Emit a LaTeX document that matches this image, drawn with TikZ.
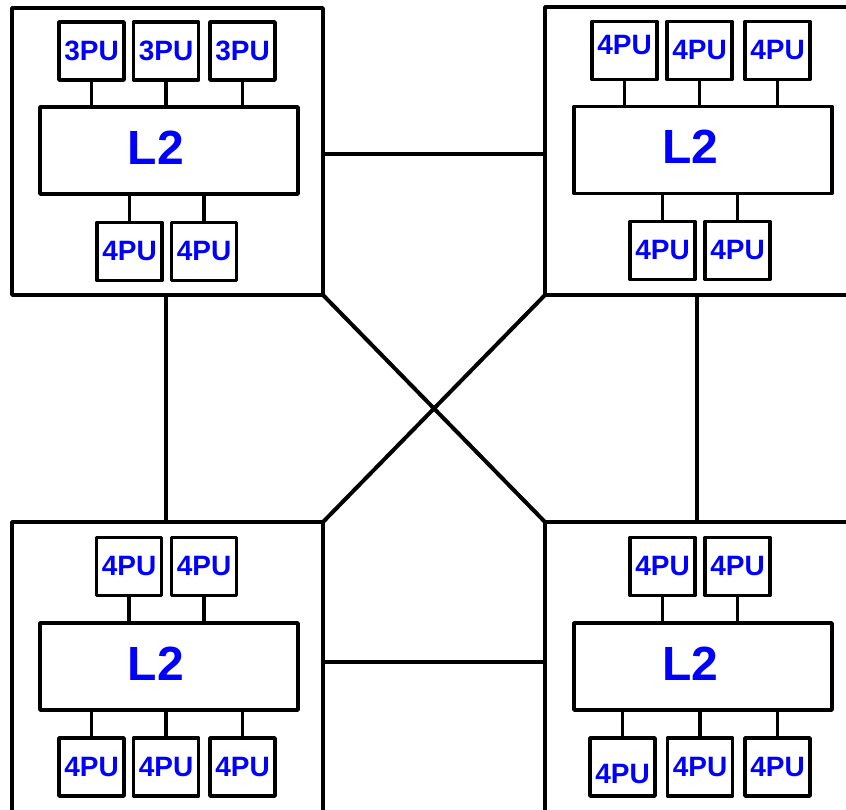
\documentclass[tikz,border=0pt]{standalone}
\usepackage{fontspec}
\setmainfont{Liberation Sans}
\usetikzlibrary{calc}
\definecolor{publue}{RGB}{0,0,255}
% cache label sits a little left of and above the box centre
\newcommand{\cachelabel}{\hspace*{-26pt}\raisebox{3pt}[\height][\depth]{L2}}
\newcommand{\liftlabel}[2]{\raisebox{#1}[\height][\depth]{#2}}
\tikzset{
  module/.style={draw, line width=3.6pt, line join=round, inner sep=0pt, outer sep=0pt},
  pu/.style={draw, line width=3.6pt, line join=round, inner sep=0pt, outer sep=0pt,
    minimum width=65pt, minimum height=58pt, text=publue,
    font=\fontsize{28}{30}\selectfont\bfseries},
  cache/.style={draw, line width=3.6pt, line join=round, inner sep=0pt, outer sep=0pt,
    minimum width=258pt, minimum height=87pt, text=publue,
    font=\fontsize{48}{52}\selectfont\bfseries},
  stub/.style={line width=3.4pt},
  link/.style={line width=3.2pt},
  cross/.style={line width=4pt},
}
\begin{document}
\begin{tikzpicture}[x=1pt,y=-1pt]
\useasboundingbox (0,0) rectangle (846,810);
\clip (0,0) rectangle (846,810);
\fill[white] (0,0) rectangle (846,810);

% four module frames (the right and lower ones run past the edge)
\node[module, minimum width=311pt, minimum height=287pt] (tl) at (167.5,151.5) {};
\node[module, minimum width=355pt, minimum height=288pt] (tr) at (722.5,151) {};
\node[module, minimum width=311pt, minimum height=338pt] (bl) at (167.5,691) {};
\node[module, minimum width=355pt, minimum height=338pt] (br) at (722.5,691) {};

% ---- top-left module ----
\node[cache] (tlL2) at (169,150.5) {\cachelabel};
\node[pu] (tla) at (91.5,51) {3PU};
\node[pu] (tlb) at (166,51) {3PU};
\node[pu] (tlc) at (242.5,51) {3PU};
\node[pu] (tld) at (129.5,251.5) {4PU};
\node[pu] (tle) at (204,251.5) {4PU};
\foreach \p in {tla,tlb,tlc} \draw[stub] (\p.south) -- (\p.south |- tlL2.north);
\foreach \p in {tld,tle} \draw[stub] (\p.north) -- (\p.north |- tlL2.south);

% ---- top-right module ----
\node[cache] (trL2) at (703,150) {\cachelabel};
\node[pu] (tra) at (624.5,50.5) {\liftlabel{5pt}{4PU}};
\node[pu] (trb) at (699.5,50.5) {4PU};
\node[pu] (trc) at (777.5,50.5) {4PU};
\node[pu] (trd) at (662.5,250.5) {4PU};
\node[pu] (tre) at (737.5,250.5) {4PU};
\foreach \p in {tra,trb,trc} \draw[stub] (\p.south) -- (\p.south |- trL2.north);
\foreach \p in {trd,tre} \draw[stub] (\p.north) -- (\p.north |- trL2.south);

% ---- bottom-left module ----
\node[cache] (blL2) at (169,666.5) {\cachelabel};
\node[pu] (bla) at (129,566.5) {4PU};
\node[pu] (blb) at (204,566.5) {4PU};
\node[pu] (blc) at (91.5,767) {4PU};
\node[pu] (bld) at (166,767) {4PU};
\node[pu] (ble) at (242.5,767) {4PU};
\foreach \p in {bla,blb} \draw[stub] (\p.south) -- (\p.south |- blL2.north);
\foreach \p in {blc,bld,ble} \draw[stub] (\p.north) -- (\p.north |- blL2.south);

% ---- bottom-right module ----
\node[cache] (brL2) at (703,666.5) {\cachelabel};
\node[pu] (bra) at (662.5,566.5) {4PU};
\node[pu] (brb) at (737.5,566.5) {4PU};
\node[pu] (brc) at (622.5,767) {\liftlabel{-7pt}{4PU}};
\node[pu] (brd) at (700,767) {4PU};
\node[pu] (bre) at (777.5,767) {4PU};
\foreach \p in {bra,brb} \draw[stub] (\p.south) -- (\p.south |- brL2.north);
\foreach \p in {brc,brd,bre} \draw[stub] (\p.north) -- (\p.north |- brL2.south);

% ---- links between modules ----
\coordinate (tlr) at ($(tl.north east)+(0,146)$);
\coordinate (blr) at ($(bl.north east)+(0,140)$);
\coordinate (tldown) at ($(tl.south west)+(154,0)$);
\coordinate (trdown) at ($(tr.south west)+(152,0)$);
\draw[link] (tlr) -- (tlr -| tr.west);
\draw[link] (blr) -- (blr -| br.west);
\draw[link] (tldown) -- (tldown |- bl.north);
\draw[link] (trdown) -- (trdown |- br.north);
\draw[cross] (tl.south east) -- (br.north west);
\draw[cross] (tr.south west) -- (bl.north east);
\end{tikzpicture}
\end{document}
